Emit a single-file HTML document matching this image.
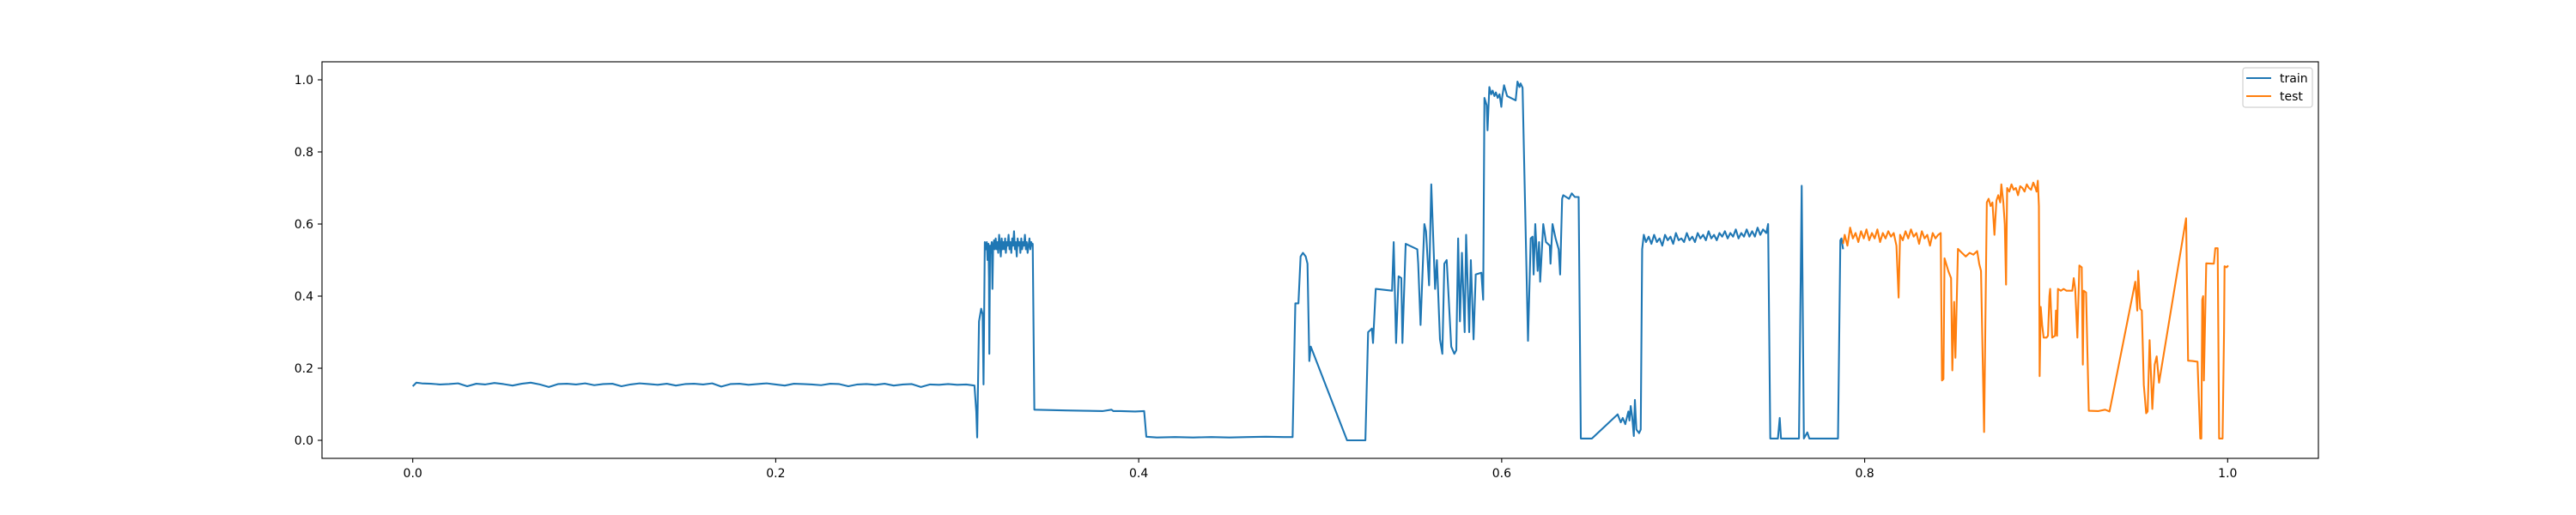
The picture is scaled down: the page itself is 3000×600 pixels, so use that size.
<!DOCTYPE html>
<html><head><meta charset="utf-8">
<style>
html,body{margin:0;padding:0;background:#fff;}
svg{display:block;font-family:"DejaVu Sans","Liberation Sans",sans-serif;}
</style></head>
<body>
<svg id="chart" width="3000" height="600" viewBox="0 0 3000 600" xmlns="http://www.w3.org/2000/svg">
<rect x="0" y="0" width="3000" height="600" fill="#fff"/>
<g id="plot"></g>
<rect x="375" y="72" width="2325" height="462" fill="none" stroke="#000" stroke-width="1.1"/>
<g id="xticks"></g>
<g id="yticks"></g>
<g>
<rect x="2612" y="79" width="81" height="46" rx="3" fill="#fff" fill-opacity="0.8" stroke="#d0d0d0" stroke-width="1.2"/>
<g>
<line x1="2616" y1="91" x2="2645" y2="91" stroke="#1f77b4" stroke-width="2.1"/>
<text x="2655" y="96" font-size="14">train</text></g>
<g>
<line x1="2616" y1="112" x2="2645" y2="112" stroke="#ff7f0e" stroke-width="2.1"/>
<text x="2655" y="117" font-size="14">test</text></g>
</g>
</svg>
<script>
const xTicks = [0.0, 0.2, 0.4, 0.6, 0.8, 1.0];
const xTickLabels = ["0.0","0.2","0.4","0.6","0.8","1.0"];
const yTicks = [0.0, 0.2, 0.4, 0.6, 0.8, 1.0];
const yTickLabels = ["0.0","0.2","0.4","0.6","0.8","1.0"];
const trainData = [
[0,0.150],[0.002,0.160],[0.005,0.158],[0.010,0.157],[0.015,0.155],[0.020,0.156],[0.025,0.158],[0.030,0.150],[0.035,0.157],[0.040,0.155],[0.045,0.159],[0.050,0.156],[0.055,0.152],[0.060,0.157],[0.065,0.160],[0.070,0.155],[0.075,0.148],[0.080,0.156],[0.085,0.157],[0.090,0.155],[0.095,0.158],[0.100,0.153],[0.105,0.156],[0.110,0.157],[0.115,0.150],[0.120,0.155],[0.125,0.158],[0.130,0.156],[0.135,0.154],[0.140,0.157],[0.145,0.152],[0.150,0.156],[0.155,0.157],[0.160,0.155],[0.165,0.158],[0.170,0.149],[0.175,0.156],[0.180,0.157],[0.185,0.154],[0.190,0.156],[0.195,0.158],[0.200,0.155],[0.205,0.152],[0.210,0.157],[0.215,0.156],[0.220,0.155],[0.225,0.153],[0.230,0.157],[0.235,0.156],[0.240,0.150],[0.245,0.155],[0.250,0.156],[0.255,0.154],[0.260,0.157],[0.265,0.152],[0.270,0.155],[0.275,0.156],[0.280,0.148],[0.285,0.155],[0.290,0.154],[0.295,0.156],[0.300,0.154],[0.305,0.155],[0.3095,0.152],
[0.3105,0.08],[0.3110,0.008],[0.3120,0.33],[0.3132,0.365],[0.3140,0.35],[0.3145,0.155],[0.3152,0.55],
[0.3158,0.53],[0.3163,0.55],[0.3167,0.50],[0.3172,0.545],[0.3175,0.45],[0.3177,0.24],[0.3181,0.54],[0.3186,0.52],[0.3190,0.55],[0.3194,0.42],[0.3198,0.54],[0.3203,0.555],[0.3207,0.53],[0.3212,0.56],[0.3217,0.53],[0.3222,0.55],[0.3226,0.52],[0.3231,0.57],[0.3236,0.54],[0.3240,0.51],[0.3245,0.56],[0.3250,0.53],[0.3254,0.55],[0.3259,0.53],[0.3264,0.56],[0.3268,0.52],[0.3273,0.55],[0.3278,0.54],[0.3283,0.57],[0.3288,0.53],[0.3293,0.55],[0.3298,0.52],[0.3303,0.56],[0.3308,0.54],[0.3313,0.58],[0.3318,0.53],[0.3323,0.55],[0.3328,0.51],[0.3333,0.56],[0.3338,0.54],[0.3343,0.55],[0.3348,0.52],[0.3353,0.56],[0.3358,0.53],[0.3363,0.55],[0.3368,0.54],[0.3373,0.57],[0.3378,0.53],[0.3383,0.55],[0.3388,0.52],[0.3393,0.54],[0.3398,0.56],[0.3403,0.53],[0.3408,0.55],[0.3413,0.54],[0.3416,0.545],
[0.3425,0.085],[0.350,0.084],[0.360,0.083],[0.370,0.082],[0.380,0.081],[0.385,0.085],[0.386,0.081],[0.390,0.081],[0.398,0.080],[0.403,0.081],
[0.4042,0.010],[0.410,0.008],[0.420,0.009],[0.430,0.008],[0.440,0.009],[0.450,0.008],[0.460,0.009],[0.470,0.010],[0.480,0.009],[0.4848,0.009],
[0.4863,0.38],[0.4880,0.38],[0.4892,0.51],[0.4905,0.52],[0.4920,0.51],[0.4930,0.49],[0.4940,0.22],[0.4948,0.26],[0.5148,0.0],[0.5249,0.0],
[0.5264,0.30],[0.5285,0.31],[0.5291,0.27],[0.5306,0.42],[0.5396,0.415],[0.5405,0.55],[0.5418,0.27],[0.5432,0.455],[0.5447,0.45],[0.5453,0.27],[0.5471,0.545],[0.5535,0.53],[0.5540,0.49],[0.5553,0.32],[0.5574,0.60],[0.5583,0.58],[0.5600,0.43],[0.5612,0.71],[0.5633,0.42],[0.5643,0.50],[0.5660,0.28],[0.5673,0.24],[0.5684,0.49],[0.5697,0.50],[0.5722,0.26],[0.5739,0.24],[0.5750,0.25],[0.5760,0.56],[0.5770,0.33],[0.5781,0.52],[0.5796,0.30],[0.5804,0.57],[0.5821,0.30],[0.5830,0.50],[0.5845,0.28],[0.5857,0.46],[0.5888,0.465],[0.5898,0.39],
[0.5905,0.95],[0.5917,0.93],[0.5922,0.86],[0.5932,0.98],[0.5942,0.96],[0.5950,0.97],[0.5960,0.955],[0.5968,0.965],[0.5978,0.95],[0.5988,0.96],[0.5998,0.925],[0.6002,0.95],[0.6013,0.985],[0.6030,0.955],[0.6077,0.943],[0.6087,0.995],[0.6098,0.98],[0.6104,0.99],[0.6115,0.978],
[0.6145,0.276],[0.6160,0.56],[0.6170,0.565],[0.6176,0.46],[0.6185,0.60],[0.6198,0.47],[0.6206,0.55],[0.6212,0.44],[0.6229,0.60],[0.6244,0.55],[0.6265,0.54],[0.6269,0.49],[0.6280,0.60],[0.6297,0.56],[0.6314,0.53],[0.6322,0.46],[0.6333,0.67],[0.6339,0.68],[0.6371,0.67],[0.6386,0.685],[0.6403,0.675],[0.6424,0.675],
[0.6436,0.005],[0.6497,0.005],[0.6639,0.072],[0.6656,0.05],[0.6667,0.062],[0.6681,0.045],[0.6698,0.08],[0.6704,0.055],[0.6711,0.095],[0.6719,0.065],[0.6728,0.012],[0.6734,0.112],[0.6742,0.03],[0.6757,0.02],[0.6766,0.03],[0.6774,0.53],[0.6783,0.57],
[0.6795,0.55],[0.681,0.565],[0.6825,0.545],[0.684,0.57],[0.6855,0.55],[0.687,0.56],[0.6885,0.54],[0.690,0.57],[0.6915,0.555],[0.693,0.565],[0.6945,0.545],[0.696,0.575],[0.6975,0.555],[0.699,0.56],[0.7005,0.55],[0.702,0.575],[0.7035,0.555],[0.705,0.565],[0.7065,0.55],[0.708,0.575],[0.7095,0.56],[0.711,0.57],[0.7125,0.555],[0.714,0.58],[0.7155,0.56],[0.717,0.57],[0.7185,0.555],[0.720,0.575],[0.7215,0.565],[0.723,0.58],[0.7245,0.56],[0.726,0.575],[0.7275,0.565],[0.729,0.585],[0.7305,0.56],[0.732,0.575],[0.7335,0.565],[0.735,0.585],[0.7365,0.565],[0.738,0.58],[0.7395,0.565],[0.741,0.59],[0.7425,0.57],[0.744,0.585],
[0.7458,0.575],[0.7468,0.60],[0.7480,0.005],[0.7522,0.005],[0.7532,0.062],[0.7539,0.005],[0.7638,0.005],[0.7653,0.706],[0.7665,0.005],[0.7684,0.022],[0.7695,0.005],[0.7853,0.005],[0.7866,0.555],[0.7872,0.56],[0.7881,0.53]
];
const testData = [
[0.7881,0.545],[0.789,0.57],[0.7905,0.54],[0.792,0.59],[0.7935,0.56],[0.795,0.575],[0.7965,0.55],[0.798,0.58],[0.7995,0.56],[0.801,0.585],[0.8025,0.555],[0.804,0.575],[0.8055,0.56],[0.807,0.585],[0.8085,0.55],[0.810,0.575],[0.8115,0.56],[0.813,0.58],[0.8145,0.565],[0.816,0.575],[0.8175,0.54],[0.8187,0.396],[0.8195,0.57],[0.821,0.555],[0.8225,0.58],[0.824,0.56],[0.8255,0.585],[0.827,0.565],[0.8285,0.575],[0.830,0.545],[0.8315,0.58],[0.833,0.56],[0.8345,0.57],[0.836,0.54],[0.8375,0.575],[0.839,0.56],[0.8405,0.57],[0.8419,0.575],
[0.8426,0.166],[0.8434,0.17],[0.8440,0.505],[0.8462,0.468],[0.8476,0.45],[0.8483,0.194],[0.8493,0.384],[0.8500,0.229],[0.8514,0.531],[0.8536,0.52],[0.8557,0.51],[0.8578,0.52],[0.8599,0.515],[0.8620,0.525],[0.8631,0.49],[0.8641,0.47],[0.8658,0.023],[0.8673,0.66],[0.8683,0.67],[0.8694,0.65],[0.8704,0.66],[0.8715,0.57],[0.8726,0.665],[0.8736,0.68],[0.8747,0.66],[0.8753,0.71],[0.8764,0.66],[0.8772,0.60],[0.8779,0.432],[0.8785,0.70],
[0.8797,0.69],[0.8809,0.71],[0.8821,0.695],[0.8833,0.70],[0.8845,0.68],[0.8857,0.705],[0.8869,0.70],[0.8881,0.69],[0.8893,0.71],[0.8905,0.70],[0.8917,0.695],[0.8929,0.715],[0.8941,0.70],[0.8947,0.69],[0.8954,0.72],[0.8960,0.65],[0.8964,0.178],
[0.8970,0.37],[0.8978,0.32],[0.8986,0.285],[0.9002,0.285],[0.9010,0.29],[0.9018,0.40],[0.9022,0.42],[0.9033,0.285],[0.9049,0.29],[0.9054,0.36],[0.9060,0.29],[0.9065,0.42],[0.9081,0.415],[0.9096,0.42],[0.9112,0.415],[0.9144,0.415],[0.9152,0.45],[0.9160,0.42],[0.9172,0.285],[0.9183,0.485],[0.9196,0.48],[0.9202,0.21],[0.9207,0.415],[0.9220,0.41],[0.9227,0.25],[0.9235,0.082],[0.9286,0.081],[0.9325,0.085],[0.9349,0.08],
[0.9491,0.44],[0.9502,0.36],[0.9507,0.47],[0.9518,0.365],[0.9527,0.36],[0.9538,0.154],[0.9551,0.075],[0.9559,0.08],[0.9570,0.278],[0.9585,0.087],[0.9598,0.21],[0.9609,0.233],[0.9622,0.16],[0.9771,0.616],[0.9782,0.221],[0.9806,0.22],[0.9834,0.218],[0.9849,0.005],[0.9855,0.005],[0.9860,0.39],[0.9865,0.40],[0.9869,0.166],[0.9882,0.491],[0.9916,0.49],[0.9924,0.49],[0.9932,0.533],[0.9945,0.533],[0.9953,0.005],[0.9972,0.005],[0.9980,0.30],[0.9983,0.483],[0.9995,0.48],[1.0003,0.485]
];

const NS = "http://www.w3.org/2000/svg";
const AX = {left:375, right:2700, top:72, bottom:534, xmin:-0.05, xmax:1.05, ymin:-0.05, ymax:1.05};
function xScale(v){ return AX.left + (v - AX.xmin) / (AX.xmax - AX.xmin) * (AX.right - AX.left); }
function yScale(v){ return AX.bottom - (v - AX.ymin) / (AX.ymax - AX.ymin) * (AX.bottom - AX.top); }

const plot = document.getElementById('plot');
function drawSeries(data, color, name){
  const p = document.createElementNS(NS, 'path');
  p.setAttribute('d', data.map((d,i)=>(i?'L':'M')+xScale(d[0]).toFixed(2)+','+yScale(d[1]).toFixed(2)).join(''));
  p.setAttribute('fill','none');
  p.setAttribute('stroke',color);
  p.setAttribute('stroke-width','2.1');
  p.setAttribute('stroke-linejoin','round');
  
  
  plot.appendChild(p);
}
drawSeries(trainData, '#1f77b4', 'train-line');
drawSeries(testData, '#ff7f0e', 'test-line');

const xg = document.getElementById('xticks');
xTicks.forEach((t,i)=>{
  const x = xScale(t);
  const l = document.createElementNS(NS,'line');
  l.setAttribute('x1',x); l.setAttribute('x2',x); l.setAttribute('y1',534); l.setAttribute('y2',539);
  l.setAttribute('stroke','#000'); l.setAttribute('stroke-width','1.1');
  
  
  xg.appendChild(l);
  const tx = document.createElementNS(NS,'text');
  tx.setAttribute('x',x); tx.setAttribute('y',556); tx.setAttribute('text-anchor','middle'); tx.setAttribute('font-size','14');
  tx.textContent = xTickLabels[i];
  
  
  xg.appendChild(tx);
});
const yg = document.getElementById('yticks');
yTicks.forEach((t,i)=>{
  const y = yScale(t);
  const l = document.createElementNS(NS,'line');
  l.setAttribute('x1',370); l.setAttribute('x2',375); l.setAttribute('y1',y); l.setAttribute('y2',y);
  l.setAttribute('stroke','#000'); l.setAttribute('stroke-width','1.1');
  
  
  yg.appendChild(l);
  const tx = document.createElementNS(NS,'text');
  tx.setAttribute('x',365); tx.setAttribute('y',y+5); tx.setAttribute('text-anchor','end'); tx.setAttribute('font-size','14');
  tx.textContent = yTickLabels[i];
  
  
  yg.appendChild(tx);
});
</script>
</body></html>
